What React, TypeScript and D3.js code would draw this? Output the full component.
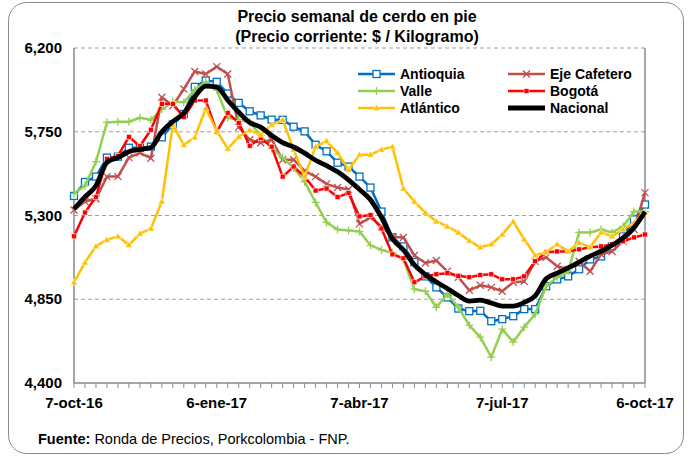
import * as d3 from 'd3';

// semanas: 7-oct-16 ... 6-oct-17 (53 puntos)
const weeks = d3.range(53);
const tickLabels = ['7-oct-16', '6-ene-17', '7-abr-17', '7-jul-17', '6-oct-17'];
const tickWeeks = [0, 13, 26, 39, 52];
const yTicks = [4400, 4850, 5300, 5750, 6200];

const antioquia = [5405, 5480, 5509, 5611, 5616, 5664, 5664, 5670, 5720, 5790, 5845, 5991, 6025, 6018, 5955, 5905, 5860, 5838, 5815, 5814, 5777, 5752, 5680, 5645, 5584, 5563, 5509, 5450, 5321, 5182, 5134, 5050, 4973, 4914, 4860, 4800, 4786, 4788, 4732, 4743, 4759, 4797, 4797, 4920, 4957, 4973, 5011, 5064, 5080, 5134, 5188, 5279, 5359];
const ejeCafetero = [5330, 5375, 5390, 5509, 5509, 5611, 5637, 5608, 5935, 5890, 5980, 6074, 6060, 6100, 6060, 5775, 5707, 5691, 5707, 5600, 5600, 5540, 5509, 5470, 5450, 5440, 5255, 5290, 5240, 5185, 5182, 5085, 5045, 5058, 5000, 4968, 4898, 4925, 4914, 4893, 4941, 4946, 5054, 5075, 5027, 5011, 5054, 5000, 5091, 5107, 5161, 5225, 5423];
const valle = [5418, 5460, 5589, 5800, 5804, 5804, 5825, 5814, 5870, 5911, 5908, 5975, 6018, 5975, 5825, 5814, 5800, 5730, 5660, 5611, 5557, 5482, 5370, 5263, 5225, 5220, 5214, 5140, 5115, 5100, 5065, 4904, 4893, 4807, 4877, 4807, 4710, 4646, 4539, 4689, 4620, 4700, 4770, 4920, 4968, 5000, 5209, 5209, 5225, 5209, 5241, 5321, 5321];
const bogota = [5188, 5316, 5400, 5605, 5620, 5723, 5672, 5761, 5900, 5900, 5828, 5918, 5918, 5750, 5852, 5798, 5675, 5715, 5670, 5509, 5563, 5509, 5434, 5445, 5399, 5420, 5295, 5303, 5230, 5091, 5070, 4941, 4973, 4984, 4990, 4976, 4968, 4980, 4984, 4957, 4957, 4973, 5054, 5102, 5107, 5107, 5118, 5129, 5134, 5145, 5161, 5182, 5198];
const atlantico = [4941, 5048, 5135, 5170, 5188, 5142, 5203, 5230, 5375, 5788, 5680, 5720, 5875, 5755, 5659, 5723, 5758, 5734, 5788, 5814, 5654, 5509, 5670, 5700, 5637, 5546, 5627, 5627, 5654, 5670, 5445, 5375, 5316, 5268, 5241, 5209, 5165, 5129, 5145, 5198, 5268, 5172, 5086, 5102, 5145, 5107, 5155, 5129, 5209, 5188, 5225, 5262, 5316];
const nacional = [5335, 5400, 5460, 5585, 5611, 5643, 5655, 5665, 5750, 5805, 5850, 5938, 5995, 5990, 5920, 5855, 5800, 5775, 5730, 5692, 5668, 5635, 5597, 5568, 5535, 5492, 5440, 5385, 5290, 5175, 5115, 5035, 4983, 4943, 4908, 4870, 4840, 4845, 4830, 4813, 4813, 4833, 4868, 4960, 4990, 5018, 5050, 5082, 5108, 5140, 5180, 5235, 5320];

type Marker = 'square' | 'x' | 'plus' | 'dot' | 'tri' | 'none';
const series: { name: string; values: number[]; color: string; marker: Marker }[] = [
  { name: 'Antioquia', values: antioquia, color: '#0070C0', marker: 'square' },
  { name: 'Eje Cafetero', values: ejeCafetero, color: '#C0504D', marker: 'x' },
  { name: 'Valle', values: valle, color: '#92D050', marker: 'plus' },
  { name: 'Bogotá', values: bogota, color: '#FF0000', marker: 'dot' },
  { name: 'Atlántico', values: atlantico, color: '#FFC000', marker: 'tri' },
  { name: 'Nacional', values: nacional, color: '#000000', marker: 'none' },
];

const W = 690, H = 458;
const left = 74, right = 645, top = 48, bottom = 383;
const font = 'Liberation Sans, Arial, sans-serif';

const x = d3.scaleLinear().domain([0, 52]).range([left, right]);
const y = d3.scaleLinear().domain([4400, 6200]).range([bottom, top]);

function drawMarker(m: Marker, cx: number, cy: number, color: string, key: string | number) {
  switch (m) {
    case 'square':
      return <rect key={key} x={cx - 3.5} y={cy - 3.5} width={7} height={7} fill="#fff" stroke={color} strokeWidth={1.3} />;
    case 'x':
      return <path key={key} d={`M${cx - 3.5},${cy - 3.5}L${cx + 3.5},${cy + 3.5}M${cx - 3.5},${cy + 3.5}L${cx + 3.5},${cy - 3.5}`} stroke={color} strokeWidth={1.3} />;
    case 'plus':
      return <path key={key} d={`M${cx - 4},${cy}L${cx + 4},${cy}M${cx},${cy - 4}L${cx},${cy + 4}`} stroke={color} strokeWidth={1.3} />;
    case 'dot':
      return <rect key={key} x={cx - 2.5} y={cy - 2.5} width={5} height={5} fill={color} stroke="#fff" strokeWidth={0.6} />;
    case 'tri':
      return <path key={key} d={`M${cx},${cy - 3.5}L${cx + 3.5},${cy + 2.5}L${cx - 3.5},${cy + 2.5}Z`} fill={color} stroke="#fff" strokeWidth={0.5} />;
    default:
      return null;
  }
}

export default function App() {
  const line = d3.line<number>().x((_, i) => x(i)).y((v) => y(v));
  const smooth = d3.line<number>().x((_, i) => x(i)).y((v) => y(v)).curve(d3.curveMonotoneX);

  const legendRows = [
    [series[0], series[1]],
    [series[2], series[3]],
    [series[4], series[5]],
  ];

  return (
    <svg width={W} height={H} style={{ position: 'absolute', left: 0, top: 0, background: '#fff' }} fontFamily={font}>
      <rect x={8.5} y={2.5} width={675} height={451} rx={18} fill="#fff" stroke="#8a8a8a" strokeWidth={1} />

      <text x={357} y={22} textAnchor="middle" fontSize={16} fontWeight="bold">Precio semanal de cerdo en pie</text>
      <text x={357} y={42} textAnchor="middle" fontSize={16} fontWeight="bold">(Precio corriente: $ / Kilogramo)</text>

      {/* grid */}
      {yTicks.slice(1).map((t) => (
        <line key={t} x1={left} x2={right} y1={y(t)} y2={y(t)} stroke="#a0a0a0" strokeDasharray="4,3" strokeWidth={1} />
      ))}
      <line x1={left} x2={left} y1={top} y2={bottom} stroke="#888" strokeWidth={1.5} />
      <line x1={right} x2={right} y1={top} y2={bottom} stroke="#888" strokeWidth={1.5} />
      <line x1={left} x2={right} y1={bottom} y2={bottom} stroke="#888" strokeWidth={1.5} />
      {weeks.map((w) => (
        <line key={w} x1={x(w)} x2={x(w)} y1={bottom} y2={bottom + 5} stroke="#888" strokeWidth={1} />
      ))}

      {yTicks.map((t) => (
        <text key={t} x={62} y={y(t) + 5} textAnchor="end" fontSize={15} fontWeight="bold">{d3.format(',')(t)}</text>
      ))}
      {tickWeeks.map((w, i) => (
        <text key={w} x={x(w)} y={408} textAnchor="middle" fontSize={15} fontWeight="bold">{tickLabels[i]}</text>
      ))}

      {series.map((s) => (
        <g key={s.name}>
          <path
            d={(s.marker === 'none' ? smooth : line)(s.values) || ''}
            fill="none"
            stroke={s.color}
            strokeWidth={s.marker === 'none' ? 4.8 : 2.5}
            strokeLinejoin="round"
          />
          {s.values.map((v, i) => drawMarker(s.marker, x(i), y(v), s.color, i))}
        </g>
      ))}

      {/* legend */}
      {legendRows.map((row, r) =>
        row.map((s, c) => {
          const lx = c === 0 ? 358 : 508;
          const ly = 74 + r * 17;
          return (
            <g key={s.name}>
              <line x1={lx} x2={lx + 37} y1={ly} y2={ly} stroke={s.color} strokeWidth={s.marker === 'none' ? 4.8 : 2.5} />
              {drawMarker(s.marker, lx + 18.5, ly, s.color, 'm')}
              <text x={lx + 42} y={ly + 5} fontSize={14} fontWeight="bold">{s.name}</text>
            </g>
          );
        })
      )}

      <text x={38} y={444} fontSize={14.5}>
        <tspan fontWeight="bold">Fuente:</tspan>
        <tspan> Ronda de Precios, Porkcolombia  - FNP.</tspan>
      </text>
    </svg>
  );
}
